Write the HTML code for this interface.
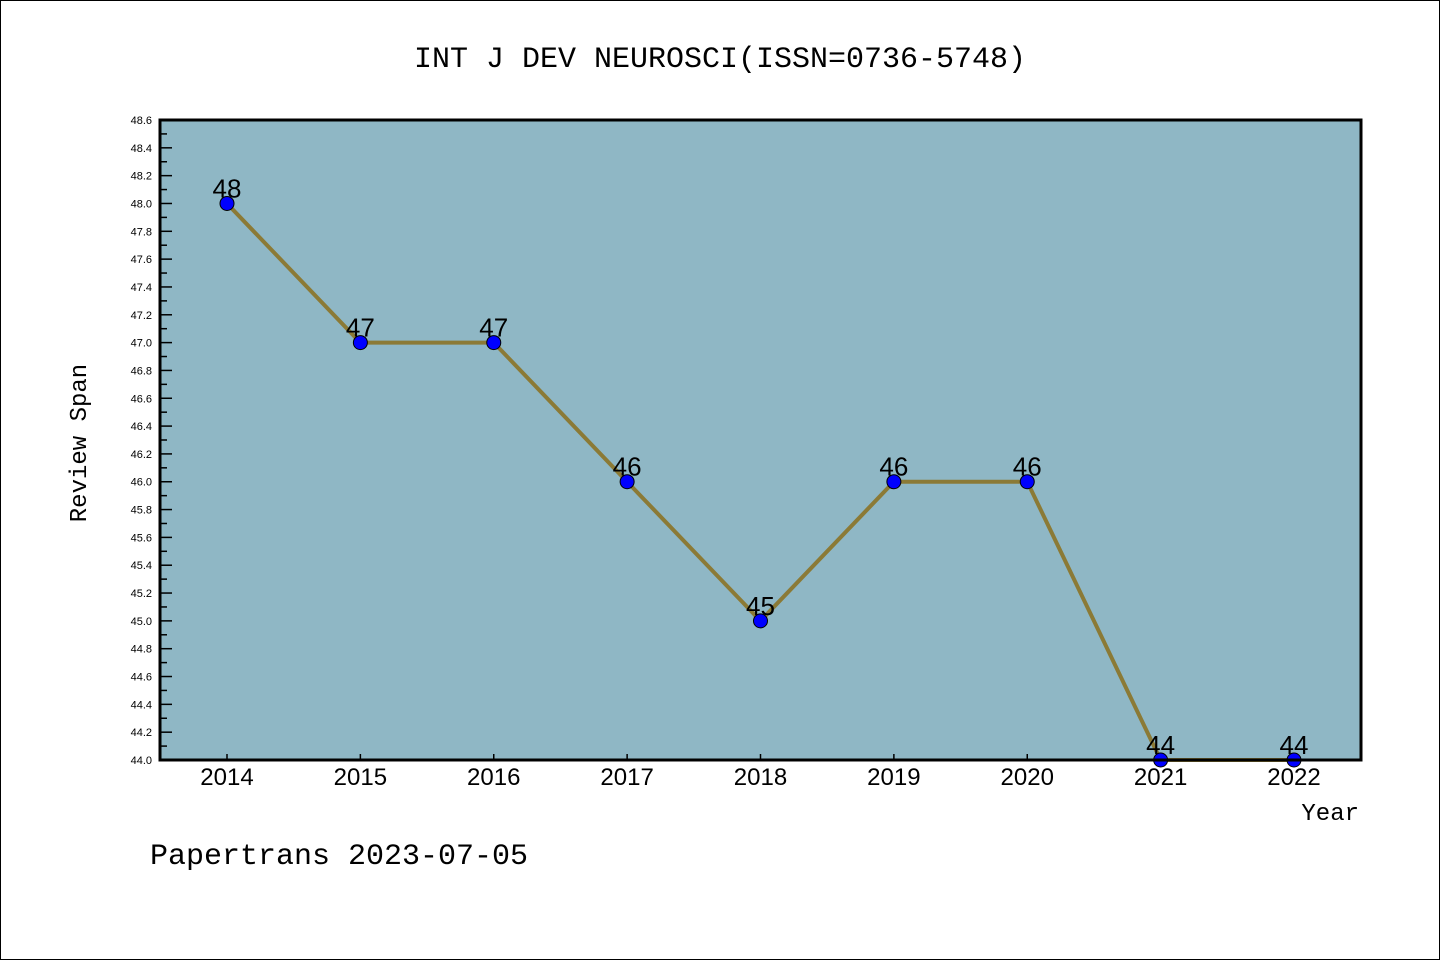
<!DOCTYPE html>
<html><head><meta charset="utf-8"><style>
html,body{margin:0;padding:0;background:#fff}
svg{display:block}
</style></head><body>
<svg width="1440" height="960" viewBox="0 0 1440 960" font-family="'Liberation Sans', sans-serif">
<rect x="0.5" y="0.5" width="1439" height="959" fill="#fff" stroke="#000"/>
<text x="720" y="67" text-anchor="middle" font-family="'Liberation Mono', monospace" font-size="30">INT J DEV NEUROSCI(ISSN=0736-5748)</text>
<rect x="160" y="120" width="1201" height="640" fill="#8fb7c5"/>
<g id="yaxis"></g>
<g id="xaxis"></g>
<g id="series"></g>
<rect x="160" y="120" width="1201" height="640" fill="none" stroke="#000" stroke-width="3"/>
<text x="86" y="443" text-anchor="middle" transform="rotate(-90 86 443)" font-family="'Liberation Mono', monospace" font-size="24">Review Span</text>
<text x="1359" y="820" text-anchor="end" font-family="'Liberation Mono', monospace" font-size="24">Year</text>
<text x="150" y="864" font-family="'Liberation Mono', monospace" font-size="30">Papertrans 2023-07-05</text>
</svg>
<script>
const years = [2014,2015,2016,2017,2018,2019,2020,2021,2022];
const values = [48,47,47,46,45,46,46,44,44];
const yMin = 44.0, yMax = 48.6;
const NS = 'http://www.w3.org/2000/svg';
const X0 = 160, X1 = 1361, Y0 = 760, Y1 = 120;
function xs(i){ return 227 + i*(1294-227)/(years.length-1); }
function ys(v){ return Y0 - (v - yMin)/(yMax - yMin)*(Y0 - Y1); }
function mk(tag, attrs, parent){ const e=document.createElementNS(NS,tag); for(const k in attrs) e.setAttribute(k,attrs[k]); parent.appendChild(e); return e; }
const ya=document.getElementById('yaxis'), xa=document.getElementById('xaxis'), sg=document.getElementById('series');
for(let k=0;k<=46;k++){
  const v=yMin+k*0.1, y=ys(v), major=k%2===0;
  const t=mk('line',{x1:X0,x2:X0+(major?12:7),y1:y,y2:y,stroke:'#000','stroke-width':1.5},ya);
  
  
  if(major){
    const l=mk('text',{x:152,y:y+4,'text-anchor':'end','font-size':11},ya);
    l.textContent=v.toFixed(1);
    
    
  }
}
years.forEach((yr,i)=>{
  const x=xs(i);
  const t=mk('line',{x1:x,x2:x,y1:Y0,y2:Y0-6,stroke:'#000','stroke-width':1.5},xa);
  
  
  const l=mk('text',{x:x,y:785,'text-anchor':'middle','font-size':24},xa);
  l.textContent=yr;
  
  
});
const pts=values.map((v,i)=>xs(i)+','+ys(v)).join(' ');
const pl=mk('polyline',{points:pts,fill:'none',stroke:'#8b7a36','stroke-width':4,'stroke-linejoin':'round'},sg);


values.forEach((v,i)=>{
  const c=mk('circle',{cx:xs(i),cy:ys(v),r:7,fill:'#0000ff',stroke:'#000','stroke-width':1},sg);
  
  
  const l=mk('text',{x:xs(i),y:ys(v)-6,'text-anchor':'middle','font-size':26},sg);
  l.textContent=v;
  
  
});
</script>
</body></html>
